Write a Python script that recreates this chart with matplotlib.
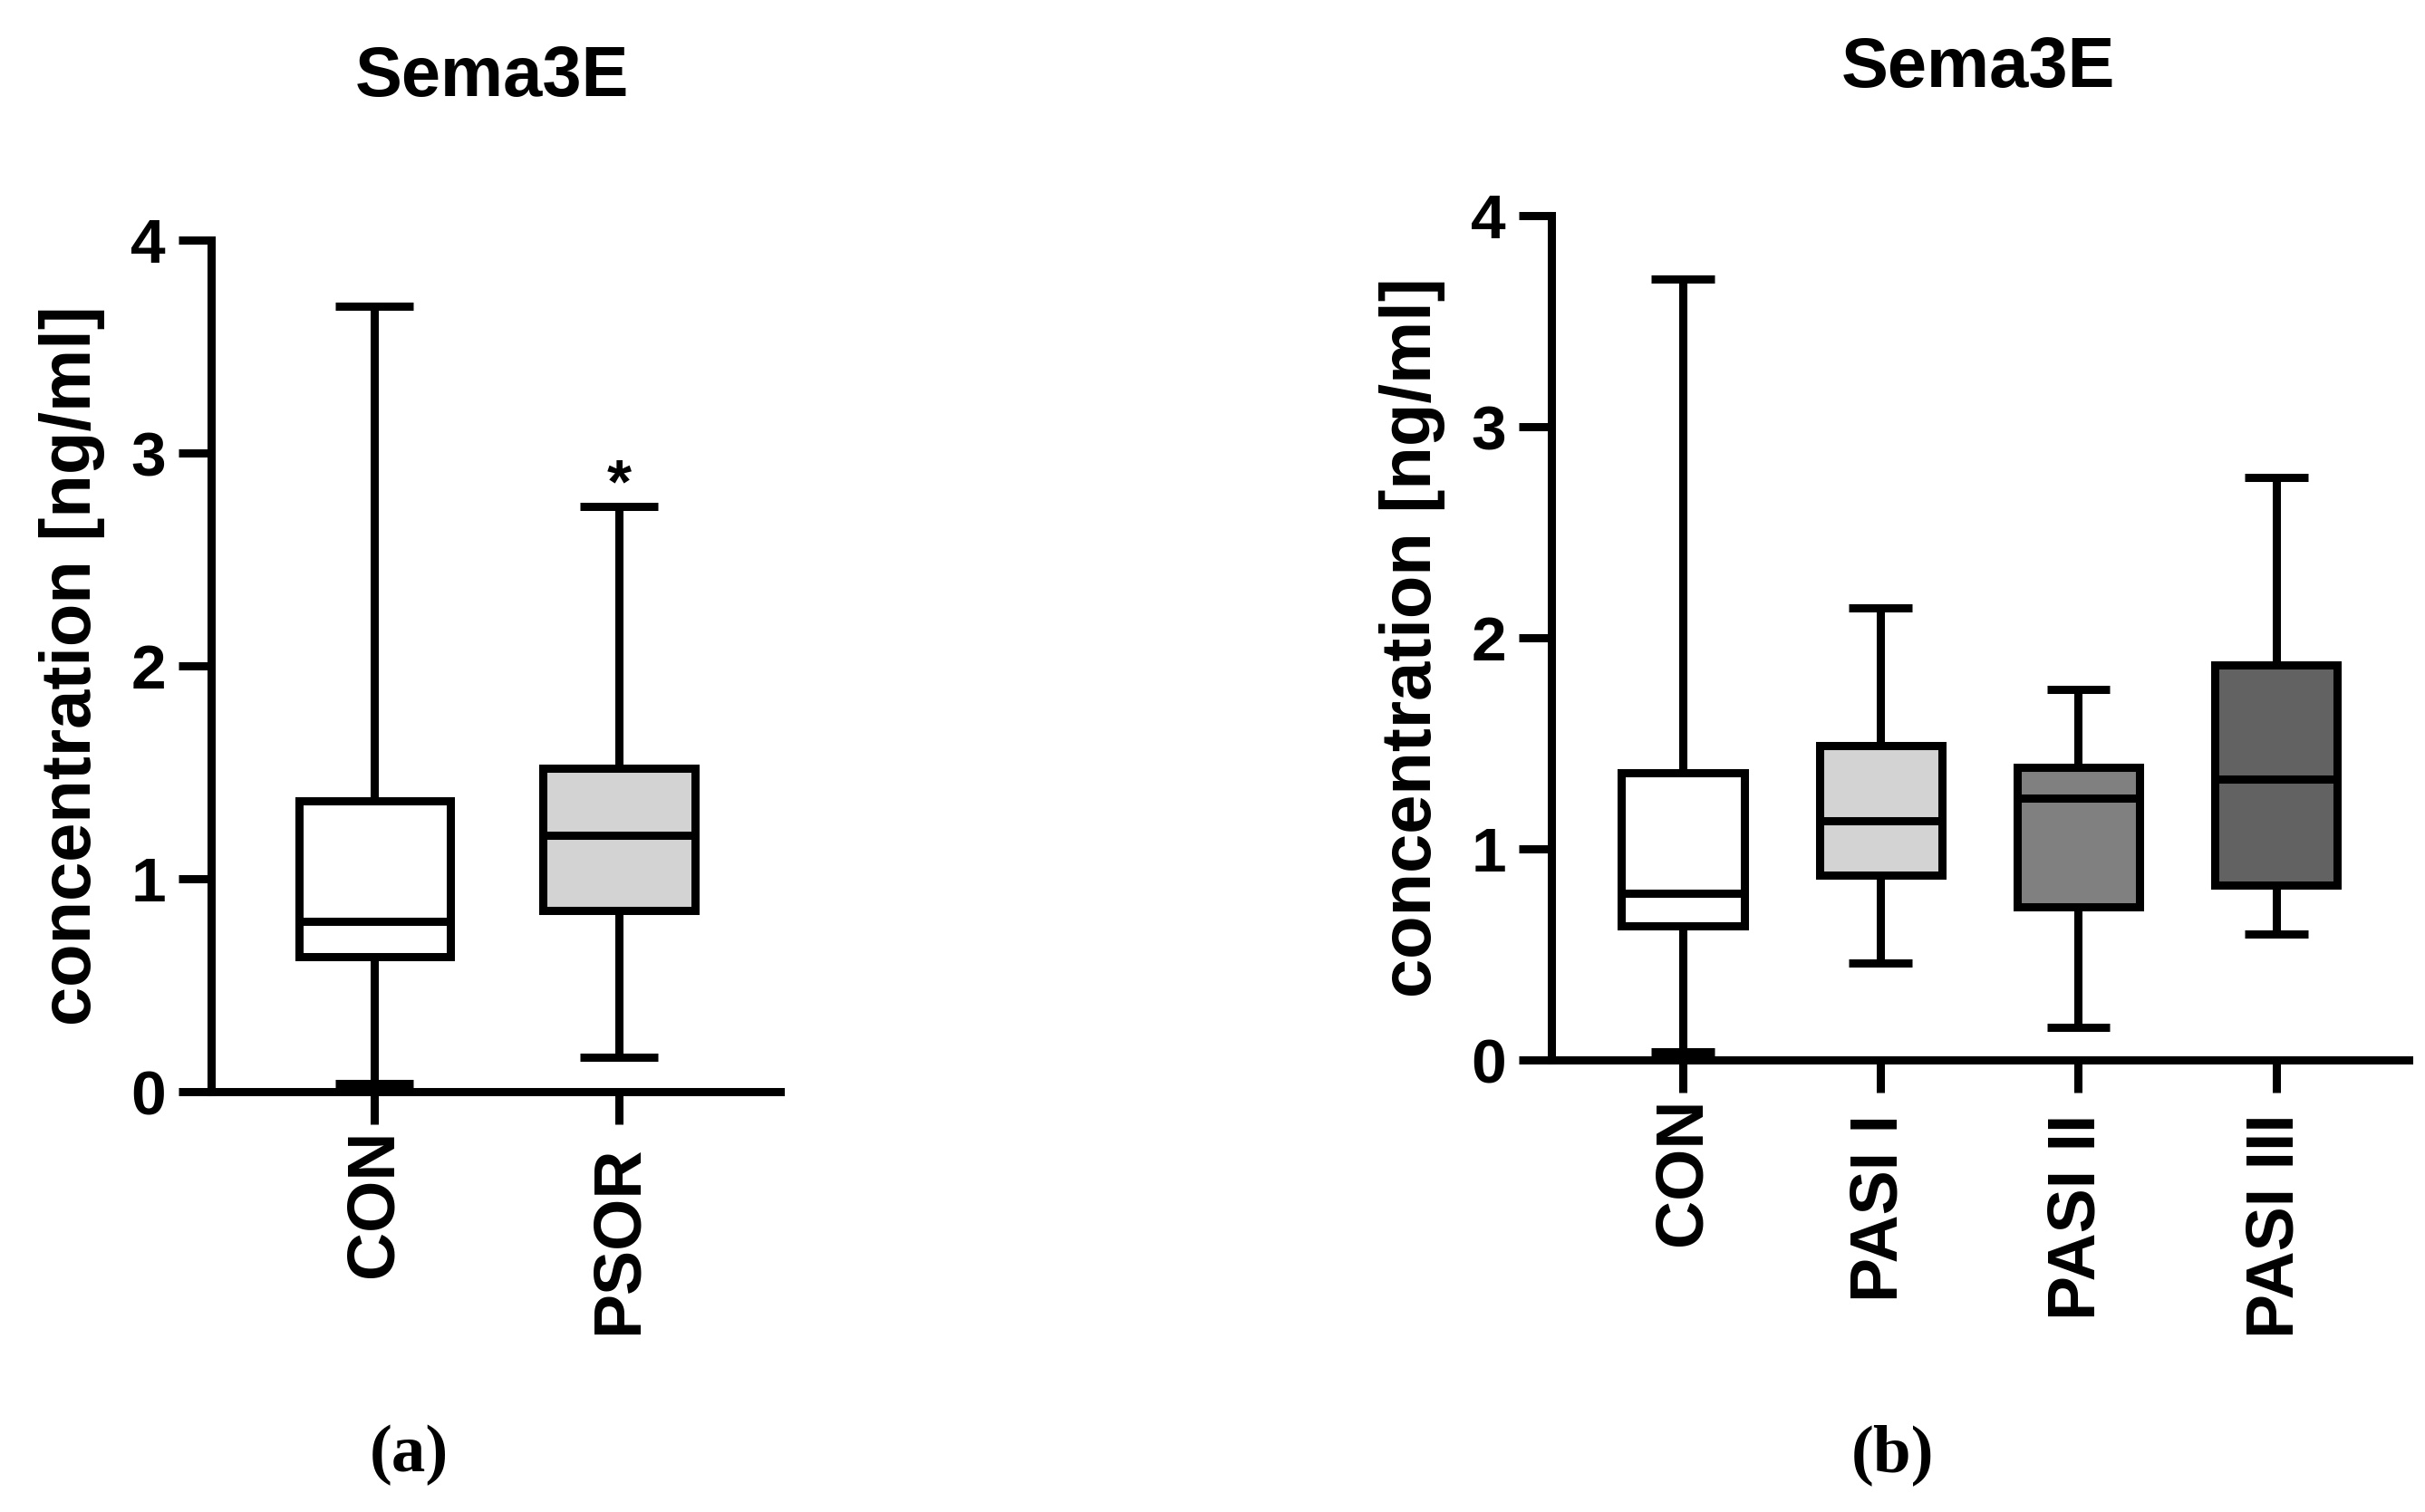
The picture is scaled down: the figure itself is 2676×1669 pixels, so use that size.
import matplotlib
matplotlib.use('Agg')
import matplotlib.pyplot as plt
from matplotlib.transforms import ScaledTranslation

plt.rcParams['font.family'] = ['Liberation Sans', 'DejaVu Sans']
plt.rcParams['font.weight'] = 'bold'

# panel (a): CON vs PSOR
groups_a = ['CON', 'PSOR']
whislo_a = [0.04, 0.16]
q1_a = [0.635, 0.85]
med_a = [0.80, 1.205]
q3_a = [1.365, 1.52]
whishi_a = [3.69, 2.75]
colors_a = ['white', '#d3d3d3']

# panel (b): CON vs PASI groups
groups_b = ['CON', 'PASI I', 'PASI II', 'PASI III']
whislo_b = [0.04, 0.46, 0.155, 0.595]
q1_b = [0.635, 0.875, 0.725, 0.83]
med_b = [0.79, 1.135, 1.24, 1.33]
q3_b = [1.36, 1.49, 1.385, 1.87]
whishi_b = [3.70, 2.14, 1.755, 2.76]
colors_b = ['white', '#d3d3d3', '#808080', '#626262']

yticks = [0, 1, 2, 3, 4]
title = 'Sema3E'
ylabel = 'concentration [ng/ml]'

LW = 6.5


def draw_panel(ax, groups, lo, q1, med, q3, hi, colors, xlim):
    stats = []
    for g, a, b, c, d, e in zip(groups, lo, q1, med, q3, hi):
        stats.append(dict(label=g, whislo=a, q1=b, med=c, q3=d, whishi=e, fliers=[]))
    pos = list(range(len(groups)))
    bp = ax.bxp(stats, positions=pos, widths=0.62, capwidths=0.32,
                patch_artist=True, showfliers=False,
                boxprops=dict(linewidth=LW, edgecolor='black'),
                whiskerprops=dict(linewidth=LW, color='black', solid_capstyle='butt'),
                capprops=dict(linewidth=LW, color='black', solid_capstyle='butt'),
                medianprops=dict(linewidth=LW, color='black', solid_capstyle='butt'))
    for patch, col in zip(bp['boxes'], colors):
        patch.set_facecolor(col)
    for k in ('whiskers', 'caps', 'medians', 'boxes'):
        for art in bp[k]:
            art.set_clip_on(False)

    ax.set_xlim(*xlim)
    ax.set_ylim(0, 4)
    ax.set_yticks(yticks)
    ax.set_yticklabels([str(t) for t in yticks], fontsize=50, fontweight='bold')
    ax.set_xticks(pos)
    ax.set_xticklabels(groups, rotation=90, fontsize=53, fontweight='bold')
    ax.spines['top'].set_visible(False)
    ax.spines['right'].set_visible(False)
    ax.spines['left'].set_linewidth(LW)
    ax.spines['bottom'].set_linewidth(LW)
    ax.tick_params(axis='y', length=26, width=LW, pad=10)
    ax.tick_params(axis='x', length=26, width=LW, pad=4)
    ax.set_ylabel(ylabel, fontsize=56, fontweight='bold', labelpad=20)

    # in the original the group labels other than CON sit a bit lower
    shift = ScaledTranslation(0, -18 / 100, ax.figure.dpi_scale_trans)
    for lab in ax.get_xticklabels()[1:]:
        lab.set_transform(lab.get_transform() + shift)


fig = plt.figure(figsize=(26.76, 16.69), dpi=100)

ax1 = fig.add_axes([0.08707, 0.27801, 0.23468, 0.56321])
draw_panel(ax1, groups_a, whislo_a, q1_a, med_a, q3_a, whishi_a, colors_a, (-0.668, 1.66))
ax1.text(1, 2.77, '*', ha='center', va='baseline', fontsize=50, fontweight='bold')

ax2 = fig.add_axes([0.63976, 0.29898, 0.35351, 0.55842])
draw_panel(ax2, groups_b, whislo_b, q1_b, med_b, q3_b, whishi_b, colors_b, (-0.664, 3.67))

fig.text(543 / 2676, 1 - 106 / 1669, title, ha='center', va='baseline', fontsize=56, fontweight='bold')
fig.text(2183 / 2676, 1 - 96 / 1669, title, ha='center', va='baseline', fontsize=56, fontweight='bold')

fig.text(451 / 2676, 1 - 1606 / 1669, '(a)', ha='center', va='center', fontsize=54,
         fontweight='bold', family=['Liberation Serif', 'DejaVu Serif'])
fig.text(2088 / 2676, 1 - 1606 / 1669, '(b)', ha='center', va='center', fontsize=54,
         fontweight='bold', family=['Liberation Serif', 'DejaVu Serif'])

fig.savefig('out.png', dpi=100)
